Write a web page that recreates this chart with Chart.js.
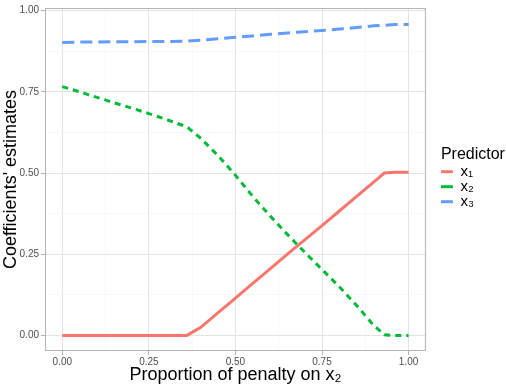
<!DOCTYPE html>
<html>
<head>
<meta charset="utf-8">
<script src="https://cdn.jsdelivr.net/npm/chart.js@4/dist/chart.umd.min.js"></script>
<style>
  html, body { margin: 0; padding: 0; background: #fff; }
  #wrap { width: 506px; height: 386px; }
</style>
</head>
<body>
<div id="wrap"><canvas id="myChart"></canvas></div>
<script>
  'use strict';

  /* Data */
  const penalty = [0, 0.05, 0.1, 0.15, 0.2, 0.25, 0.3, 0.36, 0.4, 0.45, 0.5, 0.55, 0.6, 0.65, 0.7, 0.75, 0.8, 0.85, 0.9, 0.93, 0.96, 1];
  const x1Values = [0, 0, 0, 0, 0, 0, 0, 0, 0.025, 0.07, 0.115, 0.16, 0.205, 0.25, 0.294, 0.338, 0.383, 0.428, 0.473, 0.5, 0.502, 0.502];
  const x2Values = [0.766, 0.75, 0.733, 0.716, 0.7, 0.683, 0.665, 0.642, 0.607, 0.553, 0.493, 0.428, 0.368, 0.311, 0.256, 0.203, 0.15, 0.092, 0.03, 0.002, 0, 0];
  const x3Values = [0.902, 0.903, 0.903, 0.904, 0.904, 0.905, 0.905, 0.906, 0.909, 0.913, 0.918, 0.922, 0.927, 0.931, 0.935, 0.939, 0.943, 0.948, 0.953, 0.955, 0.957, 0.957];
  const seriesNames = ['x\u2081', 'x\u2082', 'x\u2083'];

  const majorTicks = [0, 0.25, 0.5, 0.75, 1];
  const minorTicks = [0.125, 0.375, 0.625, 0.875];
  const tickLabels = ['0.00', '0.25', '0.50', '0.75', '1.00'];

  /* Helpers */
  const toPoints = function (values) {
    return penalty.map(function (p, i) {
      return { x: p, y: values[i] };
    });
  };

  const isMajor = function (value) {
    return majorTicks.some(function (m) { return Math.abs(m - value) < 1e-9; });
  };

  const setTicks = function (scale) {
    scale.ticks = majorTicks.concat(minorTicks)
      .sort(function (a, b) { return a - b; })
      .map(function (v) { return { value: v }; });
  };

  const tickLabel = function (value) {
    const i = majorTicks.findIndex(function (m) { return Math.abs(m - value) < 1e-9; });
    return i >= 0 ? tickLabels[i] : '';
  };

  const gridStyle = {
    color: function (c) { return isMajor(c.tick.value) ? '#e4e4e4' : '#f3f3f3'; },
    lineWidth: function (c) { return isMajor(c.tick.value) ? 1 : 0.6; },
    tickColor: function (c) { return isMajor(c.tick.value) ? '#b3b3b3' : 'rgba(0,0,0,0)'; },
    tickLength: 4,
    tickWidth: 1
  };

  const fontFamily = 'Liberation Sans, Arial, sans-serif';
  const tickFont = { family: fontFamily, size: 10 };
  const titleFont = { family: fontFamily, size: 18 };
  const legendTitleFont = { family: fontFamily, size: 16 };
  const legendFont = { family: fontFamily, size: 15 };

  /* Panel border + legend offset */
  const panelBorder = {
    id: 'panelBorder',
    afterLayout: function (chart) {
      const legend = chart.legend;
      if (legend) {
        legend.left = chart.chartArea.right + 15;
        legend.right = chart.width;
        legend.width = legend.right - legend.left;
      }
    },
    afterDraw: function (chart) {
      const a = chart.chartArea;
      const ctx = chart.ctx;
      ctx.save();
      ctx.strokeStyle = '#b3b3b3';
      ctx.lineWidth = 1;
      ctx.strokeRect(a.left + 0.5, a.top + 0.5, a.right - a.left - 1, a.bottom - a.top - 1);
      ctx.restore();
    }
  };

  /* Chart */
  function initChart() {
    const ctx = document.getElementById('myChart').getContext('2d');

    // eslint-disable-next-line no-undef
    new Chart(ctx, {
      type: 'line',
      data: {
        datasets: [
          {
            label: seriesNames[0],
            data: toPoints(x1Values),
            borderColor: '#F8766D',
            backgroundColor: '#F8766D',
            borderWidth: 3
          },
          {
            label: seriesNames[1],
            data: toPoints(x2Values),
            borderColor: '#00BA38',
            backgroundColor: '#00BA38',
            borderWidth: 3,
            borderDash: [6, 5]
          },
          {
            label: seriesNames[2],
            data: toPoints(x3Values),
            borderColor: '#619CFF',
            backgroundColor: '#619CFF',
            borderWidth: 3,
            borderDash: [12, 6]
          }
        ]
      },
      options: {
        responsive: true,
        maintainAspectRatio: false,
        animation: false,
        layout: { padding: { top: 8, right: 37, bottom: 0, left: 0 } },
        elements: {
          point: { radius: 0 },
          line: { tension: 0, borderCapStyle: 'butt' }
        },
        scales: {
          x: {
            type: 'linear',
            min: -0.05,
            max: 1.05,
            afterBuildTicks: setTicks,
            afterFit: function (scale) { scale.height = 35; },
            border: { display: false },
            grid: gridStyle,
            ticks: {
              callback: tickLabel,
              color: '#4d4d4d',
              font: tickFont,
              padding: 1,
              maxRotation: 0,
              autoSkip: false
            },
            title: {
              display: true,
              text: 'Proportion of penalty on x\u2082',
              color: '#000',
              font: titleFont,
              padding: { top: 0, bottom: 0 }
            }
          },
          y: {
            type: 'linear',
            min: -0.048,
            max: 1.008,
            afterBuildTicks: setTicks,
            afterFit: function (scale) { scale.width = 45; },
            border: { display: false },
            grid: gridStyle,
            ticks: {
              callback: tickLabel,
              color: '#4d4d4d',
              font: tickFont,
              padding: 2,
              autoSkip: false
            },
            title: {
              display: true,
              text: 'Coefficients\' estimates',
              color: '#000',
              font: titleFont,
              padding: { top: 0, bottom: 0 }
            }
          }
        },
        plugins: {
          tooltip: { enabled: false },
          legend: {
            position: 'right',
            align: 'start',
            title: {
              display: true,
              text: 'Predictor',
              position: 'start',
              color: '#000',
              font: legendTitleFont,
              padding: { top: 139, bottom: -2 }
            },
            labels: {
              usePointStyle: true,
              pointStyle: 'line',
              pointStyleWidth: 12,
              boxHeight: 12,
              color: '#000',
              font: legendFont,
              padding: 0
            }
          }
        }
      },
      plugins: [panelBorder]
    });
  }

  initChart();
</script>
</body>
</html>
